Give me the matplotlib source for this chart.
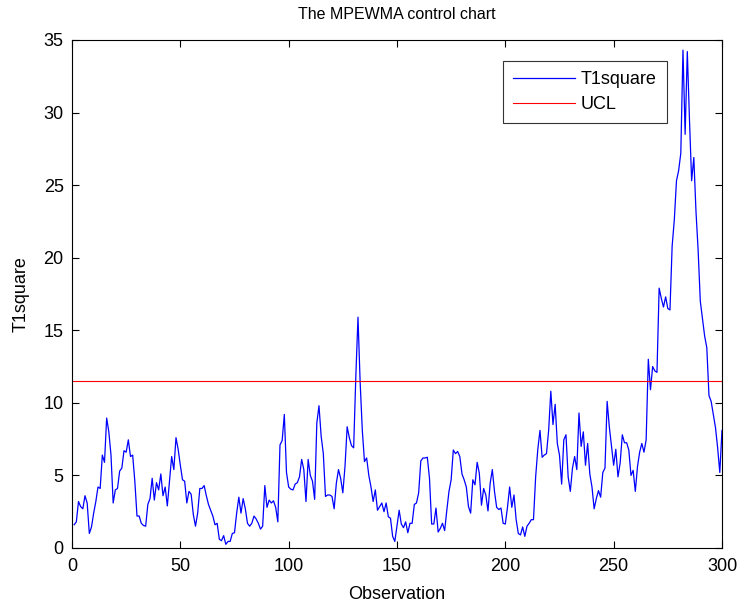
import numpy as np
import matplotlib
matplotlib.use('Agg')
import matplotlib.pyplot as plt

# T1square statistic for each observation (1..300)
t1square = [
    1.6, 1.8, 3.2, 2.85, 2.7, 3.6, 3.1, 1.0, 1.45, 2.4,
    3.2, 4.2, 4.1, 6.4, 5.9, 8.95, 8.0, 6.4, 3.1, 4.0,
    4.1, 5.3, 5.5, 6.7, 6.6, 7.45, 6.3, 6.4, 4.6, 2.2,
    2.2, 1.7, 1.55, 1.5, 3.0, 3.4, 4.8, 3.3, 4.5, 4.0,
    5.1, 3.6, 4.2, 2.9, 4.6, 6.3, 5.4, 7.6, 6.8, 5.7,
    4.7, 4.6, 3.1, 3.9, 3.7, 2.3, 1.5, 2.4, 4.1, 4.1,
    4.3, 3.6, 3.0, 2.6, 2.2, 1.6, 1.7, 0.6, 0.5, 0.85,
    0.25, 0.45, 0.45, 1.0, 1.05, 2.4, 3.5, 2.4, 3.4, 2.7,
    1.7, 1.5, 1.7, 2.2, 2.0, 1.7, 1.3, 1.5, 4.3, 2.8,
    3.3, 3.1, 3.25, 2.8, 1.8, 7.1, 7.4, 9.2, 5.2, 4.2,
    4.05, 4.0, 4.4, 4.5, 4.9, 6.1, 5.4, 3.2, 6.1, 5.0,
    4.6, 3.35, 8.6, 9.8, 7.7, 6.5, 3.55, 3.65, 3.65, 3.55,
    2.7, 4.45, 5.4, 4.8, 3.8, 5.6, 8.35, 7.6, 7.05, 6.9,
    11.8, 15.9, 11.4, 8.1, 5.95, 6.2, 5.0, 4.2, 3.2, 4.0,
    2.6, 2.85, 3.1, 2.5, 3.1, 2.15, 2.05, 0.8, 0.45, 1.5,
    2.6, 1.65, 1.4, 1.8, 1.05, 1.7, 1.7, 3.0, 3.1, 3.8,
    6.0, 6.2, 6.2, 6.25, 4.8, 1.65, 1.65, 2.75, 1.1, 1.35,
    1.7, 1.2, 2.6, 3.9, 4.7, 6.75, 6.5, 6.65, 6.3, 5.1,
    4.7, 4.2, 2.85, 2.4, 4.7, 4.35, 5.9, 5.15, 2.95, 4.1,
    3.65, 2.55, 4.45, 5.4, 3.9, 2.8, 2.65, 2.75, 1.7, 1.65,
    2.8, 4.2, 2.8, 3.65, 1.95, 1.0, 0.9, 1.45, 0.8, 1.5,
    1.7, 1.95, 1.95, 4.9, 6.8, 8.1, 6.25, 6.4, 6.5, 8.1,
    10.8, 8.5, 9.9, 7.2, 6.4, 4.4, 7.45, 7.8, 4.9, 3.9,
    5.5, 6.3, 5.4, 9.3, 7.0, 8.0, 5.7, 7.2, 5.1, 4.2,
    2.7, 3.4, 3.95, 3.5, 5.2, 5.5, 10.1, 8.35, 7.0, 5.7,
    6.8, 4.9, 5.85, 7.8, 7.25, 7.25, 6.75, 5.0, 5.35, 3.9,
    5.6, 6.6, 7.2, 6.6, 7.45, 13.0, 10.9, 12.5, 12.2, 12.1,
    17.9, 17.2, 16.6, 17.3, 16.5, 16.4, 20.8, 22.6, 25.3, 26.0,
    27.2, 34.3, 28.5, 34.2, 29.5, 25.3, 26.9, 23.2, 20.5, 17.0,
    15.8, 14.6, 13.8, 10.5, 10.1, 9.2, 8.3, 6.9, 5.2, 8.1,
]
ucl = 11.5
observations = np.arange(1, len(t1square) + 1)

plt.rcParams['font.family'] = ['Liberation Sans', 'DejaVu Sans']

fig = plt.figure(figsize=(7.43, 6.09), dpi=100)
ax = fig.add_axes([0.0969, 0.1002, 0.8748, 0.8342])

ax.plot(observations, t1square, color='#0000ff', linewidth=0.9, label='T1square')
ax.axhline(ucl, color='#ff0000', linewidth=0.8, label='UCL')

ax.set_xlim(0, 300)
ax.set_ylim(0, 35)
ax.set_xticks(range(0, 301, 50))
ax.set_yticks(range(0, 36, 5))
ax.tick_params(direction='in', top=True, right=True, labelsize=13, length=5, width=0.8)
ax.tick_params(axis='x', pad=7)
ax.tick_params(axis='y', pad=6)
for spine in ax.spines.values():
    spine.set_linewidth(0.8)

ax.set_xlabel('Observation', fontsize=13, labelpad=8)
ax.set_ylabel('T1square', fontsize=13, labelpad=10)
ax.set_title('The MPEWMA control chart', fontsize=11.5, pad=15)

leg = ax.legend(loc='upper right', bbox_to_anchor=(0.915, 0.9587), borderaxespad=0,
                fancybox=False, edgecolor='black', fontsize=13, handlelength=3.4,
                borderpad=0.55, labelspacing=0.45, handletextpad=0.35)
leg.get_frame().set_linewidth(0.8)

fig.savefig('out.png', dpi=100)
